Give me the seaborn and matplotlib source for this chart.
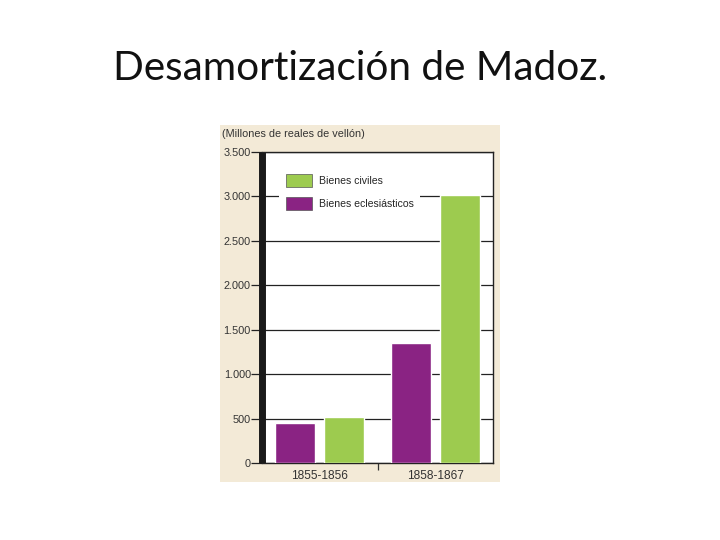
import matplotlib.pyplot as plt
import seaborn as sns
import pandas as pd
from matplotlib.patches import Rectangle, Patch
from matplotlib.ticker import FuncFormatter

periodos = ["1855-1856", "1858-1867"]
bienes_eclesiasticos = [450, 1350]
bienes_civiles = [515, 3020]
series = ["Bienes eclesiásticos", "Bienes civiles"]
colores = {"Bienes eclesiásticos": "#8a2383", "Bienes civiles": "#9dcb4f"}

df = pd.DataFrame({
    "periodo": periodos * 2,
    "valor": bienes_eclesiasticos + bienes_civiles,
    "serie": [series[0]] * 2 + [series[1]] * 2,
})

sns.set_style("white")
plt.rcParams['font.family'] = ['Liberation Sans', 'DejaVu Sans']

fig = plt.figure(figsize=(7.2, 5.4), dpi=100)
fig.patch.set_facecolor("white")

# fondo beige del recuadro
fig.patches.append(Rectangle((220 / 720, 1 - 482 / 540), 280 / 720, 357 / 540,
                             transform=fig.transFigure, facecolor="#f3ead7",
                             edgecolor="none", zorder=-5))

fig.text(0.5, 1 - 68 / 540, "Desamortización de Madoz.", ha="center", va="center",
         fontsize=29.2, family=["Lato", "DejaVu Sans"], color="#111111")

ax = fig.add_axes([262 / 720, 1 - 463 / 540, 231 / 720, 311 / 540])
ax.set_facecolor("white")

sns.barplot(data=df, x="periodo", y="valor", hue="serie", hue_order=series,
            palette=colores, order=periodos, width=0.84, gap=0.18,
            saturation=1, ax=ax, legend=False, zorder=3)

ax.set_xlim(-0.49, 1.49)
ax.set_ylim(0, 3500)
ax.set_yticks(range(0, 3501, 500))
ax.yaxis.set_major_formatter(FuncFormatter(lambda v, p: f"{int(v):,}".replace(",", ".")))
ax.grid(axis="y", color="#222222", linewidth=0.9, zorder=1)
ax.set_axisbelow(True)
ax.set_xlabel("")
ax.set_ylabel("")

for s in ["top", "right", "bottom"]:
    ax.spines[s].set_color("#222222")
    ax.spines[s].set_linewidth(1.0)
ax.spines["left"].set_color("#1a1a1a")
ax.spines["left"].set_linewidth(5)
ax.spines["left"].set_capstyle("butt")

ax.tick_params(axis="y", length=8, width=0.9, color="#222222", labelsize=7.8,
               labelcolor="#333333", pad=0, left=True)
ax.tick_params(axis="x", length=0, labelsize=8.6, labelcolor="#333333", pad=5)
ax.set_xticks([0.5], minor=True)
ax.tick_params(axis="x", which="minor", length=5, width=0.9, color="#333333", bottom=True)

fig.text(222 / 720, 1 - 134 / 540, "(Millones de reales de vellón)", ha="left",
         va="center", fontsize=7.8, color="#333333")

handles = [Patch(facecolor=colores["Bienes civiles"], edgecolor="#555555", linewidth=0.5),
           Patch(facecolor=colores["Bienes eclesiásticos"], edgecolor="#555555", linewidth=0.5)]
leg = ax.legend(handles, ["Bienes civiles", "Bienes eclesiásticos"],
                loc="upper left", bbox_to_anchor=(0.052, 0.965), frameon=True,
                fontsize=7.6, handlelength=2.5, handleheight=1.5,
                labelspacing=0.9, borderpad=0.6, handletextpad=0.65,
                fancybox=False)
leg.get_frame().set_facecolor("white")
leg.get_frame().set_edgecolor("none")
leg.get_frame().set_alpha(1)
leg.set_zorder(5)

fig.savefig("out.png", dpi=100)
